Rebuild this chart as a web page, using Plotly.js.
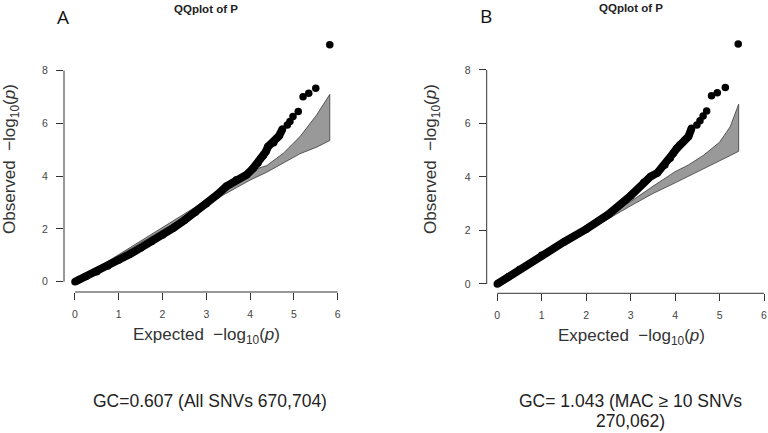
<!DOCTYPE html>
<html>
<head>
<meta charset="utf-8">
<script src="https://cdn.plot.ly/plotly-3.0.1.min.js"></script>
<style>html,body{margin:0;padding:0;background:#fff;}#chart{width:768px;height:433px;}</style>
</head>
<body>
<div id="chart"></div>
<script>
// ---- Panel A data (expected vs observed -log10 p) ----
const aBodyX = [0, 0.1, 0.25, 0.5, 0.75, 1, 1.25, 1.5, 1.75, 2, 2.25, 2.5, 2.75, 3, 3.25, 3.46, 3.69, 3.92, 4.07, 4.18, 4.3, 4.36, 4.41, 4.54, 4.61, 4.66, 4.74];
const aBodyY = [0, 0.08, 0.2, 0.38, 0.6, 0.82, 1.04, 1.28, 1.52, 1.77, 2.04, 2.33, 2.63, 2.95, 3.3, 3.62, 3.86, 4.05, 4.3, 4.5, 4.77, 4.93, 5.12, 5.27, 5.44, 5.52, 5.79];
const aTailX = [4.85, 4.91, 4.98, 5.1, 5.21, 5.34, 5.5, 5.82];
const aTailY = [5.94, 6.07, 6.26, 6.45, 7.01, 7.14, 7.33, 8.98];
const aBandX = [0, 1, 2, 3, 3.5, 4, 4.38, 4.76, 5.14, 5.52, 5.82];
const aBandUp = [0, 1.02, 2.04, 3.06, 3.6, 4.2, 4.4, 4.87, 5.5, 6.32, 7.1];
const aBandLo = [0, 0.98, 1.96, 2.93, 3.4, 3.85, 4.15, 4.5, 4.85, 5.1, 5.35];

// ---- Panel B data ----
const bBodyX = [0, 0.25, 0.5, 1, 1.5, 2, 2.5, 3, 3.3, 3.45, 3.6, 3.77, 3.89, 3.96, 4.04, 4.11, 4.22, 4.3, 4.37];
const bBodyY = [0, 0.27, 0.54, 1.07, 1.57, 2.05, 2.6, 3.3, 3.8, 4.02, 4.15, 4.45, 4.7, 4.89, 5.07, 5.2, 5.38, 5.51, 5.82];
const bTailX = [4.49, 4.56, 4.63, 4.71, 4.82, 4.95, 5.13, 5.42];
const bTailY = [5.94, 6.1, 6.28, 6.47, 7.04, 7.15, 7.34, 8.97];
const bBandX = [0, 1, 2, 3, 3.5, 4, 4.3, 4.63, 5.0, 5.24, 5.43];
const bBandUp = [0, 1.02, 2.04, 3.08, 3.65, 4.2, 4.45, 4.8, 5.3, 5.88, 6.72];
const bBandLo = [0, 0.98, 1.95, 2.92, 3.38, 3.78, 4.0, 4.3, 4.6, 4.8, 4.96];

// ---- Tick labels ----
const xTicks = [0, 1, 2, 3, 4, 5, 6];
const yTicks = [0, 2, 4, 6, 8];

const panelTitles = ["QQplot of P", "QQplot of P"];
const panelLetters = ["A", "B"];
const gcTextA = ["GC=0.607 (All SNVs 670,704)"];
const gcTextB = ["GC= 1.043 (MAC ≥ 10 SNVs", "270,062)"];
const xTitle = "Expected  \u2212log<sub>10</sub>(<i>p</i>)";
const yTitle = "Observed  \u2212log<sub>10</sub>(<i>p</i>)";

const W = 768, H = 433;
const FONT = "Liberation Sans, Arial, sans-serif";

function band(xs, up, lo, xa, ya) {
  return {
    x: xs.concat(xs.slice().reverse()),
    y: up.concat(lo.slice().reverse()),
    xaxis: xa, yaxis: ya,
    type: "scatter", mode: "lines", fill: "toself",
    fillcolor: "#999999", line: {color: "#3a3a3a", width: 0.8},
    hoverinfo: "skip", showlegend: false
  };
}
function body(xs, ys, xa, ya) {
  return {x: xs, y: ys, xaxis: xa, yaxis: ya, type: "scatter", mode: "lines+markers",
    line: {color: "#000", width: 8}, marker: {color: "#000", size: 7.5},
    showlegend: false, cliponaxis: false};
}
function tail(xs, ys, xa, ya) {
  return {x: xs, y: ys, xaxis: xa, yaxis: ya, type: "scatter", mode: "markers",
    marker: {color: "#000", size: 7.5}, showlegend: false, cliponaxis: false};
}

const data = [
  band(aBandX, aBandUp, aBandLo, "x", "y"),
  body(aBodyX, aBodyY, "x", "y"),
  tail(aTailX, aTailY, "x", "y"),
  band(bBandX, bBandUp, bBandLo, "x2", "y2"),
  body(bBodyX, bBodyY, "x2", "y2"),
  tail(bTailX, bTailY, "x2", "y2")
];

// pixel geometry of each panel
const A = {left: 64, right: 346.4, bottom: 292, top: 40, xr: [-0.251, 6.2], yr: [-0.39, 9.16]};
const B = {left: 486.7, right: 768, bottom: 293.3, top: 40, xr: [-0.238, 6.09], yr: [-0.348, 9.12]};

function xax(p, anchor) {
  return {domain: [p.left / W, p.right / W], range: p.xr, anchor: anchor,
    tickvals: xTicks, ticktext: xTicks.map(String), ticks: "outside", ticklen: 7, tickwidth: 1, tickcolor: "#333",
    showline: false, zeroline: false, showgrid: false, ticklabelstandoff: 5,
    tickfont: {family: FONT, size: 10.5, color: "#444"}};
}
function yax(p, anchor) {
  return {domain: [1 - p.bottom / H, 1 - p.top / H], range: p.yr, anchor: anchor,
    tickvals: yTicks, ticktext: yTicks.map(String), ticks: "outside", ticklen: 7, tickwidth: 1, tickcolor: "#333",
    showline: false, zeroline: false, showgrid: false, ticklabelstandoff: 6,
    tickfont: {family: FONT, size: 10.5, color: "#444"}};
}

function axisLines(p, xa, ya) {
  return [
    {type: "line", xref: xa, yref: "paper", x0: xTicks[0], x1: xTicks[xTicks.length - 1],
      y0: 1 - p.bottom / H, y1: 1 - p.bottom / H, line: {color: "#333", width: 1}},
    {type: "line", xref: "paper", yref: ya, x0: p.left / W, x1: p.left / W,
      y0: yTicks[0], y1: yTicks[yTicks.length - 1], line: {color: "#333", width: 1}}
  ];
}

function ann(text, px, py, opts) {
  return Object.assign({text: text, x: px / W, y: 1 - py / H, xref: "paper", yref: "paper",
    xanchor: "center", yanchor: "middle", showarrow: false}, opts || {});
}

const gcFont = {family: FONT, size: 17.5, color: "#222"};
const annotations = [
  ann(panelTitles[0], 206, 9, {font: {family: FONT, size: 11.5, color: "#222", weight: "bold"}}),
  ann(panelTitles[1], 631, 8, {font: {family: FONT, size: 11.5, color: "#222", weight: "bold"}}),
  ann(panelLetters[0], 63, 17, {font: {family: "Open Sans, sans-serif", size: 19, color: "#111"}}),
  ann(panelLetters[1], 486, 16, {font: {family: "Open Sans, sans-serif", size: 19, color: "#111"}}),
  ann(xTitle, 206, 336, {font: {family: FONT, size: 17, color: "#333"}}),
  ann(xTitle, 631, 337, {font: {family: FONT, size: 17, color: "#333"}}),
  ann(yTitle, 11, 159, {textangle: -90, font: {family: FONT, size: 17, color: "#333"}}),
  ann(yTitle, 432, 159, {textangle: -90, font: {family: FONT, size: 17, color: "#333"}}),
  ann(gcTextA[0], 210, 401, {font: gcFont}),
  ann(gcTextB[0], 630, 401, {font: gcFont}),
  ann(gcTextB[1], 630, 421, {font: gcFont})
];

const layout = {
  width: W, height: H,
  margin: {l: 0, r: 0, t: 0, b: 0},
  paper_bgcolor: "#fff", plot_bgcolor: "#fff",
  showlegend: false,
  xaxis: xax(A, "y"), yaxis: yax(A, "x"),
  xaxis2: xax(B, "y2"), yaxis2: yax(B, "x2"),
  shapes: axisLines(A, "x", "y").concat(axisLines(B, "x2", "y2")),
  annotations: annotations
};

Plotly.newPlot("chart", data, layout, {staticPlot: true, displayModeBar: false});
</script>
</body>
</html>
